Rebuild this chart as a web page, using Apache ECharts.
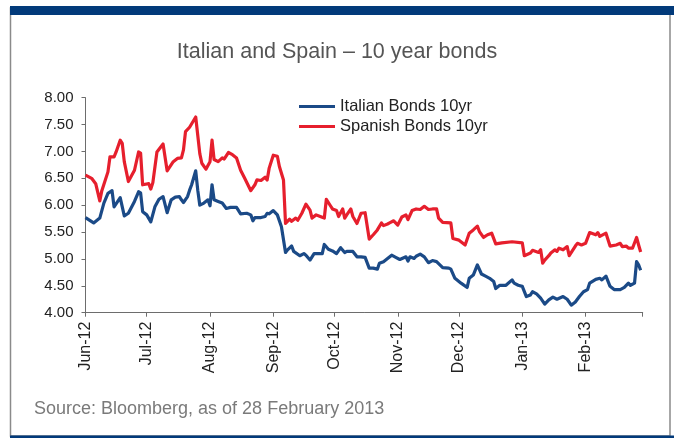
<!DOCTYPE html>
<html>
<head>
<meta charset="utf-8">
<style>
  html, body { margin: 0; padding: 0; background: #ffffff; }
  #chart { width: 674px; height: 438px; }
</style>
<script src="https://cdn.jsdelivr.net/npm/echarts@6/dist/echarts.min.js"></script>
</head>
<body>
<div id="chart"></div>
<script>
// 10-year government bond yields (%), June 2012 – February 2013
const itDates = [
  '2012-06-01','2012-06-05','2012-06-08','2012-06-10','2012-06-12','2012-06-14','2012-06-15','2012-06-18','2012-06-20','2012-06-22',
  '2012-06-25','2012-06-27','2012-06-28','2012-06-29','2012-07-01','2012-07-03','2012-07-05','2012-07-07','2012-07-09','2012-07-11',
  '2012-07-13','2012-07-15','2012-07-17','2012-07-18','2012-07-19','2012-07-21','2012-07-22','2012-07-23','2012-07-25','2012-07-26',
  '2012-07-27','2012-07-29','2012-07-31','2012-08-01','2012-08-02','2012-08-03','2012-08-05','2012-08-07','2012-08-09','2012-08-11',
  '2012-08-14','2012-08-16','2012-08-19','2012-08-21','2012-08-22','2012-08-23','2012-08-26','2012-08-28','2012-08-29','2012-08-30',
  '2012-09-01','2012-09-03','2012-09-05','2012-09-07','2012-09-08','2012-09-10','2012-09-11','2012-09-14','2012-09-16','2012-09-17',
  '2012-09-19','2012-09-21','2012-09-23','2012-09-25','2012-09-26','2012-09-28','2012-09-30','2012-10-02','2012-10-04','2012-10-06',
  '2012-10-07','2012-10-10','2012-10-12','2012-10-14','2012-10-16','2012-10-18','2012-10-20','2012-10-22','2012-10-23','2012-10-25',
  '2012-10-27','2012-10-29','2012-10-31','2012-11-02','2012-11-05','2012-11-06','2012-11-07','2012-11-09','2012-11-10','2012-11-12',
  '2012-11-14','2012-11-16','2012-11-18','2012-11-20','2012-11-23','2012-11-26','2012-11-27','2012-11-29','2012-12-02','2012-12-05',
  '2012-12-06','2012-12-08','2012-12-10','2012-12-12','2012-12-14','2012-12-16','2012-12-18','2012-12-19','2012-12-21','2012-12-24',
  '2012-12-27','2012-12-28','2012-12-30','2013-01-01','2013-01-03','2013-01-05','2013-01-06','2013-01-08','2013-01-10','2013-01-12',
  '2013-01-14','2013-01-16','2013-01-18','2013-01-21','2013-01-23','2013-01-25','2013-01-27','2013-01-29','2013-01-31','2013-02-02',
  '2013-02-03','2013-02-06','2013-02-08','2013-02-09','2013-02-11','2013-02-13','2013-02-15','2013-02-18','2013-02-20','2013-02-22',
  '2013-02-23','2013-02-25','2013-02-26','2013-02-27','2013-02-28'
];
const itValues = [
  5.77, 5.67, 5.76, 6.04, 6.22, 6.27, 5.97, 6.14, 5.80, 5.85,
  6.07, 6.25, 6.23, 5.88, 5.82, 5.69, 5.97, 6.11, 6.16, 5.86,
  6.10, 6.15, 6.16, 6.10, 6.05, 6.16, 6.28, 6.38, 6.64, 6.28,
  6.00, 6.04, 6.10, 5.99, 6.38, 6.10, 6.07, 6.04, 5.94, 5.96,
  5.96, 5.84, 5.85, 5.82, 5.71, 5.77, 5.77, 5.79, 5.85, 5.84,
  5.90, 5.82, 5.60, 5.12, 5.17, 5.24, 5.14, 5.06, 5.10, 5.07,
  4.98, 5.10, 5.10, 5.10, 5.27, 5.18, 5.15, 5.10, 5.21, 5.12,
  5.14, 5.14, 5.04, 5.04, 5.03, 4.83, 4.83, 4.81, 4.92, 4.95,
  5.01, 5.07, 5.03, 4.99, 5.04, 4.96, 5.04, 5.01, 5.05, 5.09,
  5.04, 4.93, 4.97, 4.95, 4.84, 4.83, 4.81, 4.64, 4.55, 4.47,
  4.64, 4.70, 4.89, 4.72, 4.68, 4.64, 4.58, 4.45, 4.51, 4.51,
  4.61, 4.55, 4.51, 4.49, 4.30, 4.33, 4.39, 4.35, 4.27, 4.16,
  4.24, 4.29, 4.25, 4.30, 4.25, 4.14, 4.20, 4.30, 4.39, 4.43,
  4.55, 4.62, 4.64, 4.61, 4.68, 4.49, 4.43, 4.43, 4.47, 4.55,
  4.51, 4.55, 4.95, 4.89, 4.79
];

const esDates = [
  '2012-06-01','2012-06-04','2012-06-06','2012-06-08','2012-06-09','2012-06-12','2012-06-13','2012-06-15','2012-06-16','2012-06-18',
  '2012-06-19','2012-06-20','2012-06-22','2012-06-25','2012-06-27','2012-06-28','2012-06-29','2012-07-02','2012-07-03','2012-07-04',
  '2012-07-06','2012-07-09','2012-07-11','2012-07-14','2012-07-16','2012-07-18','2012-07-19','2012-07-20','2012-07-22','2012-07-25',
  '2012-07-27','2012-07-28','2012-07-30','2012-08-01','2012-08-02','2012-08-03','2012-08-05','2012-08-07','2012-08-08','2012-08-10',
  '2012-08-12','2012-08-14','2012-08-16','2012-08-18','2012-08-21','2012-08-23','2012-08-24','2012-08-26','2012-08-28','2012-08-29',
  '2012-08-30','2012-09-01','2012-09-03','2012-09-04','2012-09-06','2012-09-07','2012-09-09','2012-09-10','2012-09-12','2012-09-13',
  '2012-09-15','2012-09-17','2012-09-19','2012-09-20','2012-09-22','2012-09-24','2012-09-26','2012-09-27','2012-09-29','2012-09-30',
  '2012-10-02','2012-10-03','2012-10-05','2012-10-06','2012-10-07','2012-10-09','2012-10-10','2012-10-12','2012-10-14','2012-10-16',
  '2012-10-18','2012-10-20','2012-10-22','2012-10-24','2012-10-25','2012-10-27','2012-10-28','2012-10-30','2012-11-01','2012-11-03',
  '2012-11-05','2012-11-06','2012-11-08','2012-11-10','2012-11-12','2012-11-14','2012-11-16','2012-11-18','2012-11-20','2012-11-21',
  '2012-11-23','2012-11-27','2012-11-28','2012-12-01','2012-12-04','2012-12-06','2012-12-08','2012-12-10','2012-12-11','2012-12-13',
  '2012-12-15','2012-12-17','2012-12-19','2012-12-22','2012-12-27','2013-01-01','2013-01-02','2013-01-05','2013-01-06','2013-01-09',
  '2013-01-10','2013-01-11','2013-01-12','2013-01-14','2013-01-15','2013-01-17','2013-01-18','2013-01-19','2013-01-21','2013-01-23',
  '2013-01-24','2013-01-27','2013-01-28','2013-01-30','2013-02-01','2013-02-03','2013-02-06','2013-02-07','2013-02-08','2013-02-11',
  '2013-02-13','2013-02-16','2013-02-18','2013-02-19','2013-02-21','2013-02-22','2013-02-24','2013-02-26','2013-02-27','2013-02-28'
];
const esValues = [
  6.56, 6.50, 6.40, 6.08, 6.27, 6.62, 6.90, 6.90, 6.99, 7.21,
  7.15, 6.81, 6.44, 6.65, 6.99, 6.97, 6.38, 6.40, 6.30, 6.42,
  6.99, 7.14, 6.64, 6.81, 6.87, 6.88, 7.03, 7.37, 7.45, 7.64,
  6.96, 6.78, 6.67, 6.81, 7.21, 6.85, 6.81, 6.88, 6.86, 6.98,
  6.94, 6.88, 6.65, 6.50, 6.27, 6.38, 6.47, 6.46, 6.52, 6.47,
  6.69, 6.93, 6.91, 6.72, 6.47, 5.66, 5.74, 5.70, 5.76, 5.72,
  5.85, 6.02, 5.91, 5.76, 5.82, 5.79, 5.76, 6.11, 5.99, 5.93,
  5.90, 5.79, 5.93, 5.76, 5.82, 5.93, 5.79, 5.66, 5.85, 5.86,
  5.37, 5.45, 5.54, 5.67, 5.62, 5.65, 5.67, 5.71, 5.63, 5.78,
  5.82, 5.73, 5.90, 5.93, 5.92, 5.98, 5.92, 5.93, 5.93, 5.76,
  5.68, 5.67, 5.38, 5.35, 5.26, 5.48, 5.54, 5.61, 5.51, 5.40,
  5.45, 5.48, 5.28, 5.30, 5.32, 5.30, 5.06, 5.11, 5.16, 5.12,
  5.17, 4.92, 4.98, 5.06, 5.11, 5.17, 5.14, 5.20, 5.17, 5.23,
  5.06, 5.24, 5.29, 5.26, 5.29, 5.49, 5.45, 5.49, 5.42, 5.48,
  5.24, 5.26, 5.29, 5.23, 5.24, 5.20, 5.20, 5.40, 5.26, 5.13
];

// Month boundaries on the date axis and their labels (the last tick closes the axis, unlabelled)
const monthStarts = ['2012-06-01','2012-07-01','2012-08-01','2012-09-01','2012-10-01','2012-11-01',
                     '2012-12-01','2013-01-01','2013-02-01','2013-03-01'];
const monthLabels = ['Jun-12','Jul-12','Aug-12','Sep-12','Oct-12','Nov-12','Dec-12','Jan-13','Feb-13',''];

const yTicks = ['4.00','4.50','5.00','5.50','6.00','6.50','7.00','7.50','8.00'];

const seriesNames = ['Italian Bonds 10yr', 'Spanish Bonds 10yr'];
const titleText = 'Italian and Spain \u2013 10 year bonds';
const sourceText = 'Source: Bloomberg, as of 28 February 2013';

// dates -> day number counted from the first month start
const DAY = 86400000;
const origin = Date.UTC(2012, 5, 1);
function dayNum(s) {
  const p = s.split('-').map(Number);
  return Math.round((Date.UTC(p[0], p[1] - 1, p[2]) - origin) / DAY);
}
const tickDays = monthStarts.map(dayNum);
const labelByDay = {};
tickDays.forEach((d, i) => { labelByDay[d] = monthLabels[i]; });

const itData = itDates.map((d, i) => [dayNum(d), itValues[i]]);
const esData = esDates.map((d, i) => [dayNum(d), esValues[i]]);

const FONT = '"Liberation Sans", Arial, Helvetica, sans-serif';
const BLUE = '#1b4a87';
const RED = '#e61f2d';
const AXIS = '#6d6d6d';

const chart = echarts.init(document.getElementById('chart'), null, { renderer: 'canvas' });

chart.setOption({
  animation: false,
  backgroundColor: '#ffffff',
  textStyle: { fontFamily: FONT },
  title: {
    text: titleText,
    left: 'center',
    top: 36,
    textStyle: { fontFamily: FONT, fontSize: 21.5, fontWeight: 'normal', color: '#555555' }
  },
  legend: {
    data: seriesNames,
    orient: 'vertical',
    left: 294,
    top: 92,
    itemWidth: 36,
    itemHeight: 3,
    itemGap: 1,
    icon: 'rect',
    textStyle: { fontFamily: FONT, fontSize: 16.5, color: '#222222', lineHeight: 19 }
  },
  grid: {
    left: 85.5,
    right: 31.3,
    top: 97.7,
    bottom: 125.3,
    outerBoundsMode: 'none'
  },
  xAxis: {
    type: 'value',
    min: tickDays[0],
    max: tickDays[tickDays.length - 1],
    splitLine: { show: false },
    axisLine: { show: true, lineStyle: { color: AXIS, width: 1 } },
    axisTick: { show: true, length: 4, lineStyle: { color: AXIS }, customValues: tickDays },
    axisLabel: {
      rotate: 90,
      margin: 9,
      fontFamily: FONT,
      fontSize: 16,
      color: '#222222',
      customValues: tickDays.slice(0, -1),
      formatter: v => labelByDay[v] || ''
    }
  },
  yAxis: {
    type: 'value',
    min: 4,
    max: 8,
    interval: 0.5,
    splitLine: { show: false },
    axisLine: { show: true, lineStyle: { color: AXIS, width: 1 } },
    axisTick: { show: true, length: 4, lineStyle: { color: AXIS } },
    axisLabel: {
      margin: 12,
      fontFamily: FONT,
      fontSize: 15,
      color: '#222222',
      formatter: v => yTicks[Math.round((v - 4) / 0.5)]
    }
  },
  series: [
    {
      name: seriesNames[0],
      type: 'line',
      data: itData,
      showSymbol: false,
      symbol: 'none',
      color: BLUE,
      lineStyle: { color: BLUE, width: 3.2, join: 'round' },
      z: 3
    },
    {
      name: seriesNames[1],
      type: 'line',
      data: esData,
      showSymbol: false,
      symbol: 'none',
      color: RED,
      lineStyle: { color: RED, width: 3.2, join: 'round' },
      z: 2
    }
  ],
  graphic: [
    // panel frame
    { type: 'rect', silent: true, z: -1,
      shape: { x: 10.5, y: 8, width: 659.5, height: 428 },
      style: { fill: 'none', stroke: '#8a8a8a', lineWidth: 1.5 } },
    // top band
    { type: 'rect', silent: true, z: 10,
      shape: { x: 10, y: 6, width: 664, height: 9 },
      style: { fill: '#023a7a' } },
    // bottom band
    { type: 'rect', silent: true, z: 10,
      shape: { x: 10, y: 435.5, width: 664, height: 3 },
      style: { fill: '#023a7a' } },
    // source note
    { type: 'text', silent: true, left: 34, top: 400,
      style: { text: sourceText, fontFamily: FONT, fontSize: 18, fill: '#7a7a7a' } }
  ]
});
</script>
</body>
</html>
